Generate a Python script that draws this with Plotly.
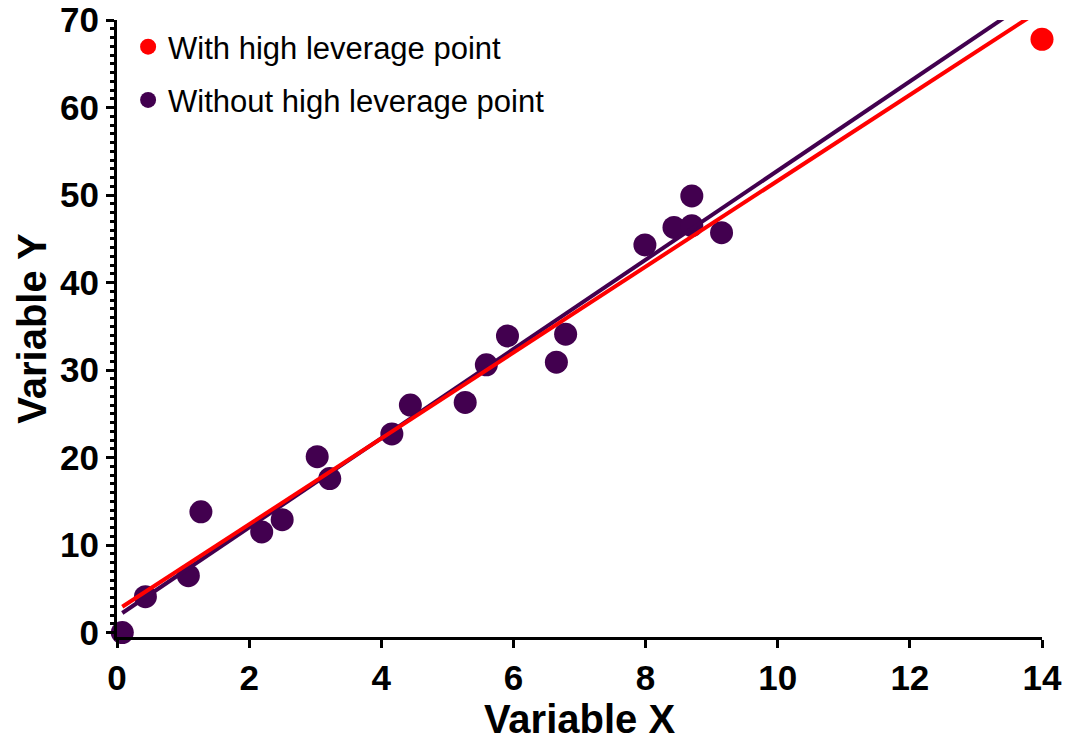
import numpy as np
import plotly.graph_objects as go

# Data
x_without = [0.08, 0.43, 1.08, 1.27, 2.19, 2.50, 3.03, 3.22, 4.16, 4.44,
             5.27, 5.59, 5.91, 6.65, 6.79, 7.99, 8.43, 8.70, 8.70, 9.15]
y_without = [0.0, 4.1, 6.5, 13.8, 11.5, 12.9, 20.1, 17.6, 22.7, 26.0,
             26.3, 30.6, 33.9, 30.9, 34.1, 44.3, 46.3, 46.5, 49.9, 45.7]
x_lev = [14.0]
y_lev = [67.8]

x_ticks = [0, 2, 4, 6, 8, 10, 12, 14]
y_ticks = [0, 10, 20, 30, 40, 50, 60, 70]

RED = "#FF0000"
PURPLE = "#42004F"
FONT = "Arial, Liberation Sans, sans-serif"

# Linear regression fits
x_all = x_without + x_lev
y_all = y_without + y_lev
s_w, b_w = np.polyfit(x_without, y_without, 1)
s_a, b_a = np.polyfit(x_all, y_all, 1)
fit_x = np.array([min(x_all), max(x_ticks)])

fig = go.Figure()
fig.add_trace(go.Scatter(
    x=x_lev, y=y_lev, mode="markers", name="With high leverage point",
    marker=dict(color=RED, size=23), cliponaxis=False,
    legendgroup="a"))
fig.add_trace(go.Scatter(
    x=x_without, y=y_without, mode="markers", name="Without high leverage point",
    marker=dict(color=PURPLE, size=23), cliponaxis=False,
    legendgroup="b"))
fig.add_trace(go.Scatter(
    x=fit_x, y=s_w * fit_x + b_w, mode="lines", showlegend=False,
    line=dict(color=PURPLE, width=4)))
fig.add_trace(go.Scatter(
    x=fit_x, y=s_a * fit_x + b_a, mode="lines", showlegend=False,
    line=dict(color=RED, width=4)))

fig.update_layout(
    width=1089, height=741,
    margin=dict(l=117, r=47, t=20, b=104, autoexpand=False),
    paper_bgcolor="white", plot_bgcolor="white",
    font=dict(family=FONT, color="black"),
    legend=dict(x=0.012, y=1.0, xanchor="left", yanchor="top",
                font=dict(size=31, family=FONT), traceorder="grouped",
                tracegroupgap=10, bgcolor="rgba(0,0,0,0)", itemwidth=30),
    xaxis=dict(
        range=[0, 14], tickvals=x_ticks, ticks="outside", ticklen=8,
        tickwidth=3, tickcolor="black", showline=True, linewidth=3,
        linecolor="black", showgrid=False, zeroline=False, automargin=False,
        tickfont=dict(size=35, family=FONT, weight="bold"),
        title=dict(text="Variable X", font=dict(size=40, family=FONT, weight="bold"),
                   standoff=14)),
    yaxis=dict(
        range=[-0.5, 70], tickvals=y_ticks, ticks="outside", ticklen=8,
        tickwidth=3, tickcolor="black", showline=True, linewidth=3,
        linecolor="black", showgrid=False, zeroline=False, automargin=False,
        minor=dict(dtick=1, ticks="outside", ticklen=4, tickwidth=2.5,
                   tickcolor="black", showgrid=False),
        tickfont=dict(size=35, family=FONT, weight="bold"),
        title=dict(text="Variable Y", font=dict(size=40, family=FONT, weight="bold"),
                   standoff=2)),
)

fig.write_html("out.html")
